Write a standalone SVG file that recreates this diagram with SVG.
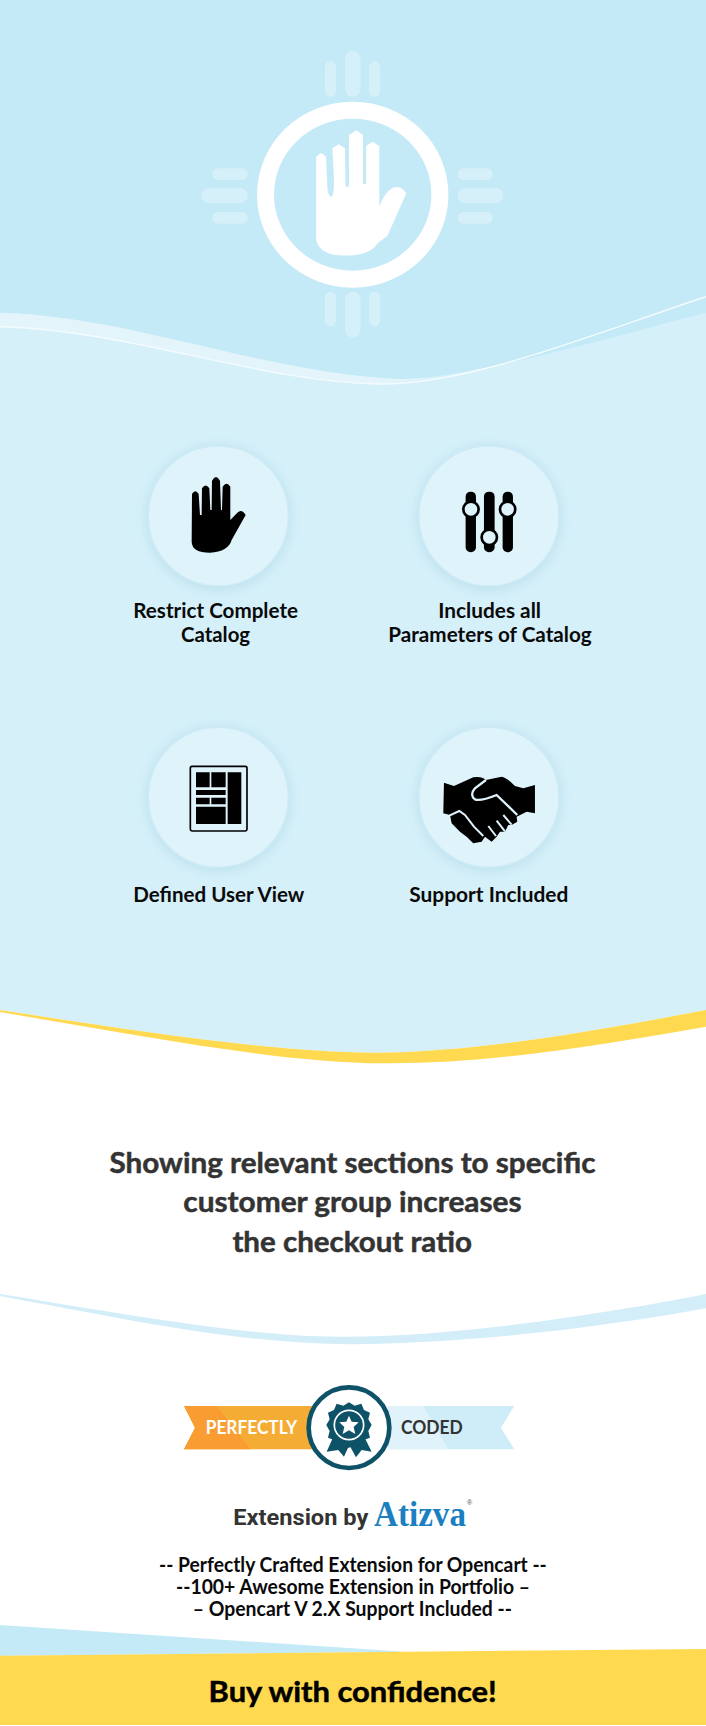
<svg xmlns="http://www.w3.org/2000/svg" width="706" height="1726" viewBox="0 0 706 1726">
<defs>
<filter id="soft" x="-30%" y="-30%" width="160%" height="160%"><feGaussianBlur stdDeviation="7"/></filter>
<style>
text{font-family:"Lato","Liberation Sans",sans-serif;text-anchor:start}
.lbl{font-size:20.5px;font-weight:700;fill:#0a0a0a}
.head{font-size:29px;font-weight:700;fill:#333;stroke:#333;stroke-width:.5px}
.sub{font-size:20px;font-weight:700;fill:#0a0a0a}
.tick{fill:#d5f0f9}
.disc{fill:#dff3fb;stroke:#cdebf6;stroke-width:1.5}
.halo{fill:#b5dcea}
.ink{fill:#000}
</style>
</defs>
<rect width="706" height="1726" fill="#fff"/>
<path d="M0 0H706V390H0Z" fill="#c5eaf7"/>
<path d="M0 312.7C130 316 260 372 396 379C470 379 600 340 706 312.7V1010C600 1030 480 1052 374 1052.7C270 1052 130 1030 0 1010Z" fill="#d5f0f9"/>
<path d="M0 312.7C130 316 260 372 396 379C420 379 435 378 445 377L378 384C260 382 130 330 0 326.7Z" fill="#e3f5fb"/>
<path d="M0 326.7C130 330 260 382 378 384C470 385 590 335 706 296.7" fill="none" stroke="#f4fbfe" stroke-width="1.4"/>
<path d="M0 1010C130 1030 270 1052 374 1052.7C480 1052 600 1030 706 1010V1026.7C600 1045 490 1064 383 1063.3C280 1063 130 1034 0 1012Z" fill="#ffd950"/>
<path d="M0 1294C130 1315 250 1337 342 1336.7C450 1337 600 1315 706 1294V1308.3C600 1328 460 1344 351 1344.3C240 1344 130 1320 0 1296Z" fill="#d3eef9"/>
<path d="M0 1625L405 1651.7L0 1656Z" fill="#c5eaf7"/>
<path d="M0 1655.7L405 1651.7L706 1649V1725H0Z" fill="#ffd950"/>

<g id="hero">
<rect class="tick" x="345" y="50.7" width="15.4" height="46" rx="7.7"/>
<rect class="tick" x="324.8" y="61.3" width="11.2" height="35.4" rx="5.6"/>
<rect class="tick" x="369" y="61.3" width="11.2" height="35.4" rx="5.6"/>
<rect class="tick" x="345" y="291.7" width="15.4" height="45.6" rx="7.7"/>
<rect class="tick" x="324.8" y="291.7" width="11.2" height="34.6" rx="5.6"/>
<rect class="tick" x="369" y="291.7" width="11.2" height="34.6" rx="5.6"/>
<rect class="tick" x="201.4" y="188.3" width="46.3" height="14.7" rx="7.3"/>
<rect class="tick" x="212" y="168.3" width="35.7" height="11.7" rx="5.8"/>
<rect class="tick" x="212" y="212" width="35.7" height="11.7" rx="5.8"/>
<rect class="tick" x="457.7" y="188.3" width="45.9" height="14.7" rx="7.3"/>
<rect class="tick" x="457.7" y="168.3" width="35.1" height="11.7" rx="5.8"/>
<rect class="tick" x="457.7" y="212" width="35.1" height="11.7" rx="5.8"/>
<ellipse cx="352.7" cy="194.7" rx="87.2" ry="84.5" fill="none" stroke="#fff" stroke-width="17"/>
<path fill="#fff" d="M316.2 240V156.7L321.2 152.7L326 156.7L327.5 190Q329.7 199 332 196Q334.5 194 333.8 175L332.4 148.3L338.7 144.3L345 148.3L345.5 186.7H349V135L356.3 130.3L363 135V184H366.2V146L372.5 141.7L379.3 146V206.7Q385 192 392 188.3Q400 184 406.3 193.3L387.4 236L377.5 243.3Q372 254 350 255.5Q320 257 316.2 240Z"/>
</g>

<g id="card-restrict">
<circle class="halo" cx="218.3" cy="518" r="70" filter="url(#soft)"/>
<circle class="disc" cx="218.3" cy="516" r="70"/>
<path class="ink" transform="translate(100 420) scale(.3333)" d="M276 222Q286 205 296 222L300 285H305L306 205Q317 188 328 205L331 270H335L336 182Q348 160 360 182L363 270H366L368 200Q380 183 391 200V300L412 278Q425 265 437 285L395 360Q385 395 330 398Q276 398 275 365Z"/>
<text class="lbl" x="133.3" y="618" textLength="164.7" lengthAdjust="spacingAndGlyphs">Restrict Complete</text>
<text class="lbl" x="181" y="641.7" textLength="69" lengthAdjust="spacingAndGlyphs">Catalog</text>
</g>

<g id="card-parameters">
<circle class="halo" cx="489" cy="518" r="70" filter="url(#soft)"/>
<circle class="disc" cx="489" cy="516" r="70"/>
<g transform="translate(100 420) scale(.3333)">
<rect class="ink" x="1097" y="215" width="31" height="182" rx="15"/>
<rect class="ink" x="1152" y="215" width="32" height="182" rx="15"/>
<rect class="ink" x="1208" y="215" width="31" height="182" rx="15"/>
<circle cx="1113" cy="268" r="23" fill="#dff3fb" stroke="#000" stroke-width="8"/>
<circle cx="1168" cy="352" r="23" fill="#dff3fb" stroke="#000" stroke-width="8"/>
<circle cx="1223" cy="268" r="23" fill="#dff3fb" stroke="#000" stroke-width="8"/>
</g>
<text class="lbl" x="438.3" y="618" textLength="102.7" lengthAdjust="spacingAndGlyphs">Includes all</text>
<text class="lbl" x="388.3" y="641.7" textLength="203.4" lengthAdjust="spacingAndGlyphs">Parameters of Catalog</text>
</g>

<g id="card-view">
<circle class="halo" cx="218.3" cy="799" r="70" filter="url(#soft)"/>
<circle class="disc" cx="218.3" cy="797.3" r="70"/>
<g transform="translate(100 700) scale(.3333)">
<rect x="271" y="199" width="170" height="194" rx="5" fill="#dff3fb" stroke="#000" stroke-width="5"/>
<path class="ink" d="M288 217H329V262H288ZM334 217H377V262H334ZM288 270H377V285H288ZM288 293H329V313H288ZM334 293H377V313H334ZM288 320H377V372H288ZM383 217H424V372H383Z"/>
</g>
<text class="lbl" x="133.3" y="901.7" textLength="171" lengthAdjust="spacingAndGlyphs">Defined User View</text>
</g>

<g id="card-support">
<circle class="halo" cx="489" cy="799" r="70" filter="url(#soft)"/>
<circle class="disc" cx="489" cy="797.3" r="70"/>
<g transform="translate(100 700) scale(.3333)">
<path class="ink" d="M1032 248L1062 258L1120 232Q1145 228 1158 240L1205 230Q1220 232 1245 258L1270 265L1305 255V340L1280 335L1250 350L1252 365L1235 375H1225L1215 395H1200L1190 410L1175 425L1155 410L1145 425L1120 430L1100 410L1080 395L1055 370L1050 345L1030 340Z"/>
<path fill="none" stroke="#dff3fb" stroke-width="7" d="M1158 240L1125 265Q1108 285 1125 298Q1140 305 1190 285L1252 345"/>
<path fill="none" stroke="#dff3fb" stroke-width="6" d="M1048 347L1078 333L1095 345L1122 380L1150 408M1210 345L1235 374M1190 362L1215 394M1165 378L1188 408"/>
</g>
<text class="lbl" x="409.3" y="901.7" textLength="159" lengthAdjust="spacingAndGlyphs">Support Included</text>
</g>

<g id="headline">
<text class="head" x="109.5" y="1173.3" textLength="486" lengthAdjust="spacingAndGlyphs">Showing relevant sections to specific</text>
<text class="head" x="183.3" y="1212.3" textLength="338.3" lengthAdjust="spacingAndGlyphs">customer group increases</text>
<text class="head" x="232.4" y="1251.7" textLength="239.6" lengthAdjust="spacingAndGlyphs">the checkout ratio</text>
</g>

<g id="badge">
<g transform="translate(150 1370) scale(.3333)">
<path d="M102 108H490V238H102L135 173Z" fill="#f5ac35"/>
<path d="M102 108H200L302 238H102L135 173Z" fill="#f99d33"/>
<path d="M715 108H1093L1053 173L1093 238H715Z" fill="#cfedf8"/>
<path d="M715 108H820L895 238H715Z" fill="#e0f2fa"/>
<circle cx="597" cy="173" r="121" fill="#fff" stroke="#0e5268" stroke-width="14"/>
<path fill="#0e5268" d="M548 205L530 245L565 240L582 260L598 225L618 262L635 240L665 245L645 205Z"/>
<path fill="#0e5268" d="M597 97L614 107L634 101L642 120L660 128L655 148L665 165L655 183L660 203L641 210L633 229L613 223L597 234L581 223L561 229L553 210L534 203L539 183L529 165L539 148L534 128L552 120L560 101L580 107Z"/>
<circle cx="597" cy="165" r="44" fill="#0e5268" stroke="#fff" stroke-width="5"/>
<path fill="#fff" d="M597 137L605 155L626 157L611 171L616 192L597 181L578 192L583 171L568 157L589 155Z"/>
</g>
<text x="205.7" y="1434.3" font-size="19" font-weight="700" fill="#fff" textLength="91.6" lengthAdjust="spacingAndGlyphs">PERFECTLY</text>
<text x="401" y="1434.3" font-size="19" font-weight="700" fill="#333" textLength="61.7" lengthAdjust="spacingAndGlyphs">CODED</text>
</g>

<g id="brand">
<text x="233.3" y="1525" font-size="22" font-weight="700" fill="#333" style="font-family:Roboto,'Liberation Sans',sans-serif" textLength="135" lengthAdjust="spacingAndGlyphs">Extension by</text>
<text x="374" y="1526" font-size="36" font-weight="700" fill="#1b7fc1" style="font-family:'Liberation Serif',serif" textLength="92" lengthAdjust="spacingAndGlyphs">Atizva</text>
<text x="467" y="1505" font-size="7" fill="#555" style="font-family:'Liberation Sans',sans-serif">®</text>
</g>

<g id="claims">
<text class="sub" x="159" y="1572.3" textLength="387.8" lengthAdjust="spacingAndGlyphs">-- Perfectly Crafted Extension for Opencart --</text>
<text class="sub" x="176" y="1594" textLength="354" lengthAdjust="spacingAndGlyphs">--100+ Awesome Extension in Portfolio –</text>
<text class="sub" x="192.8" y="1616" textLength="319.2" lengthAdjust="spacingAndGlyphs">– Opencart V 2.X Support Included --</text>
</g>

<g id="cta">
<text x="208.6" y="1701.7" font-size="29" font-weight="700" fill="#000" stroke="#000" stroke-width=".5" textLength="288.2" lengthAdjust="spacingAndGlyphs">Buy with confidence!</text>
</g>

<g id="connectors"></g>
</svg>
